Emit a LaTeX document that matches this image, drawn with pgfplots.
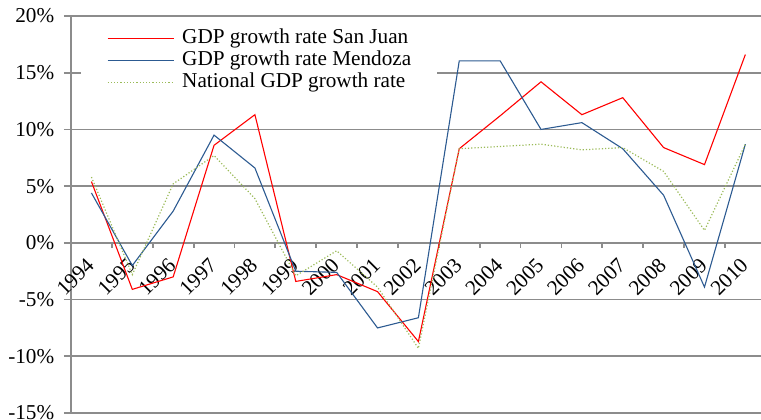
\documentclass[border=0pt]{standalone}
\usepackage{fontspec}
\setmainfont{Liberation Serif}
\usepackage{pgfplots}
\pgfplotsset{compat=1.18}

\definecolor{sjred}{HTML}{FF0000}
\definecolor{mzblue}{HTML}{2C5A91}
\definecolor{natgreen}{HTML}{9BBB59}
\definecolor{gridgray}{HTML}{8C8C8C}

% GDP growth rates (%), 1994--2010, x = year index
\pgfplotstableread{
x  sanjuan mendoza national
0    5.4     4.4     5.8
1   -4.1    -2.0    -2.8
2   -3.0     2.8     5.2
3    8.6     9.5     7.7
4   11.3     6.6     3.9
5   -3.4    -2.5    -2.9
6   -2.8    -2.6    -0.7
7   -4.3    -7.5    -3.9
8   -8.7    -6.6    -9.3
9    8.3    16.05    8.3
10  11.2    16.05    8.5
11  14.2    10.0     8.7
12  11.3    10.6     8.2
13  12.8     8.3     8.4
14   8.4     4.2     6.3
15   6.9    -3.9     1.1
16  16.6     8.7     8.7
}\gdpdata

\begin{document}
\fontsize{10.6}{12.7}\selectfont
\begin{tikzpicture}
\begin{axis}[
  scale only axis, width=347.4pt, height=198.5pt,
  xmin=-0.5, xmax=16.5, ymin=-15, ymax=20,
  axis y line*=left, axis x line*=middle,
  axis line style={gridgray, line width=0.9pt},
  every tick/.style={gridgray, line width=0.9pt},
  xtick={0,...,16},
  xticklabels={1994,1995,1996,1997,1998,1999,2000,2001,2002,2003,2004,2005,2006,2007,2008,2009,2010},
  major x tick style={draw=none},
  minor xtick={0.5,1.5,...,16.5},
  minor tick length=2.5pt,
  major tick length=3.5pt,
  tick align=outside,
  ytick={-15,-10,-5,0,5,10,15,20},
  yticklabels={-15\%,-10\%,-5\%,0\%,5\%,10\%,15\%,20\%},
  ymajorgrids, grid style={gridgray, line width=0.9pt},
  /pgf/number format/assume math mode=true,
  tick label style={font=\fontsize{10.6}{12.7}\selectfont},
  xticklabel style={xshift=0.3pt, yshift=-5.2pt, rotate=45, anchor=east, inner sep=1pt},
  yticklabel style={inner sep=1pt, xshift=-3.7pt},
  legend style={draw=none, fill=white, at={(0.0144,0.985)}, anchor=north west,
    inner xsep=12.8pt, inner ysep=3pt, row sep=1pt,
    font=\fontsize{10.6}{12.7}\selectfont,
    nodes={inner sep=0pt, text height=7.5pt, text depth=2.5pt}},
  /tikz/every odd column/.append style={column sep=4pt},
  legend cell align=left,
  legend image code/.code={\draw[#1] (0pt,0pt) -- (33pt,0pt);},
]
\addplot[sjred, line width=0.55pt] table[x=x, y=sanjuan] {\gdpdata};
\addlegendentry{GDP growth rate San Juan}
\addplot[mzblue, line width=0.55pt] table[x=x, y=mendoza] {\gdpdata};
\addlegendentry{GDP growth rate Mendoza}
\addplot[natgreen, densely dotted, line width=0.6pt] table[x=x, y=national] {\gdpdata};
\addlegendentry{National GDP growth rate}
\coordinate (axbl) at (rel axis cs:0,0);
\end{axis}
\pgfresetboundingbox
\path[use as bounding box] ([shift={(-35.5pt,-3.35pt)}]axbl) rectangle ([shift={(345pt,206.5pt)}]axbl);
\end{tikzpicture}
\end{document}
